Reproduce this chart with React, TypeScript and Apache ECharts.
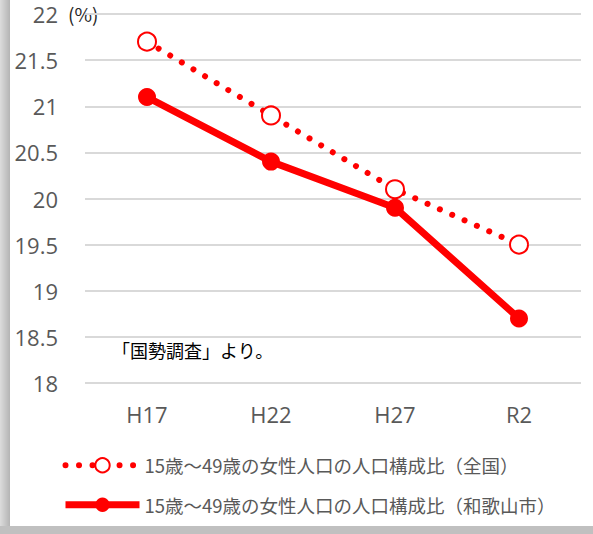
import React, { useEffect, useRef } from "react";
import * as echarts from "echarts";

const categories = ["H17", "H22", "H27", "R2"];
const nationalValues = [21.7, 20.9, 20.1, 19.5];
const wakayamaValues = [21.1, 20.4, 19.9, 18.7];
const seriesNames = [
  "15歳～49歳の女性人口の人口構成比（全国）",
  "15歳～49歳の女性人口の人口構成比（和歌山市）",
];
const yMin = 18;
const yMax = 22;
const yInterval = 0.5;
const unitLabel = "(%)";
const sourceNote = "「国勢調査」より。";

const CJK = "'Noto Sans CJK JP', 'Noto Sans', sans-serif";
const LATIN = "'Open Sans', 'Noto Sans', sans-serif";
const RED = "#ff0000";
const dotted = { color: RED, width: 6, type: [0.01, 13.5], cap: "round" };
const solid = { color: RED, width: 7 };

export default function App() {
  const ref = useRef<HTMLDivElement>(null);
  useEffect(() => {
    document.body.style.margin = "0";
    if (!ref.current) return;
    const chart = echarts.init(ref.current, undefined, { renderer: "svg" });
    chart.setOption({
      animation: false,
      grid: { left: 85, right: 12, top: 14, bottom: 151, containLabel: false },
      xAxis: {
        type: "category",
        data: categories,
        boundaryGap: true,
        axisLine: { show: false },
        axisTick: { show: false },
        axisLabel: { color: "#595959", fontSize: 22, fontFamily: LATIN, margin: 20 },
      },
      yAxis: {
        type: "value",
        min: yMin,
        max: yMax,
        interval: yInterval,
        axisLine: { show: false },
        axisTick: { show: false },
        axisLabel: {
          color: "#595959",
          fontSize: 22,
          lineHeight: 22,
          fontFamily: LATIN,
          margin: 27,
        },
        splitLine: { lineStyle: { color: "#d9d9d9", width: 2 } },
      },
      legend: {
        orient: "vertical",
        left: 62,
        top: 456,
        padding: 0,
        itemWidth: 74,
        itemHeight: 18,
        itemGap: 21,
        textStyle: { color: "#595959", fontSize: 18.5, fontFamily: CJK },
        data: [
          {
            name: seriesNames[0],
            lineStyle: dotted,
            itemStyle: { color: "#ffffff", borderColor: RED, borderWidth: 2 },
          },
          { name: seriesNames[1], lineStyle: solid, itemStyle: { color: RED } },
        ],
      },
      graphic: [
        {
          type: "text",
          left: 68,
          top: 4,
          style: { text: unitLabel, fill: "#262626", fontSize: 19, fontFamily: CJK },
        },
        {
          type: "text",
          left: 112,
          top: 341,
          style: { text: sourceNote, fill: "#000000", fontSize: 18, fontFamily: CJK },
        },
      ],
      series: [
        {
          name: seriesNames[0],
          type: "line",
          data: nationalValues,
          symbol: "circle",
          symbolSize: 18,
          itemStyle: { color: "#ffffff", borderColor: RED, borderWidth: 2 },
          lineStyle: dotted,
          z: 2,
        },
        {
          name: seriesNames[1],
          type: "line",
          data: wakayamaValues,
          symbol: "circle",
          symbolSize: 18,
          itemStyle: { color: RED },
          lineStyle: solid,
          z: 3,
        },
      ],
    });
    return () => chart.dispose();
  }, []);

  return (
    <div
      style={{
        position: "fixed",
        left: 0,
        top: 0,
        width: 593,
        height: 534,
        background: "#c0c0c0",
      }}
    >
      <div
        style={{
          position: "absolute",
          left: 0,
          top: 0,
          width: 10,
          height: 526,
          background: "linear-gradient(to right, #dcdcdc, #b4b4b4)",
        }}
      />
      <div
        style={{
          position: "absolute",
          left: 10,
          top: 0,
          width: 583,
          height: 526,
          background: "#ffffff",
        }}
      />
      <div ref={ref} style={{ position: "absolute", left: 0, top: 0, width: 593, height: 534 }} />
    </div>
  );
}
